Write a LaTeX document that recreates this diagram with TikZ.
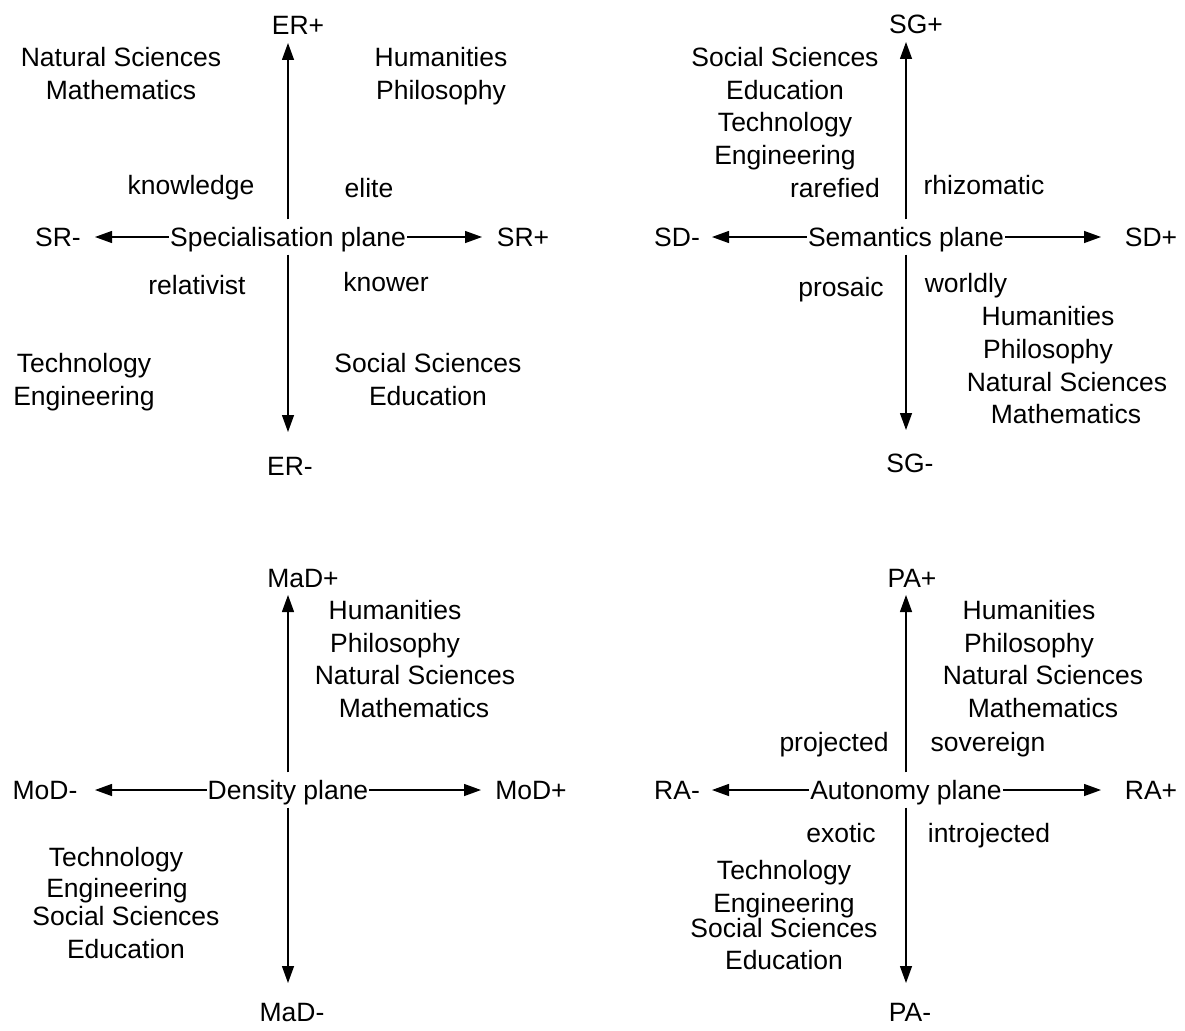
\documentclass[tikz,border=0pt]{standalone}
\usepackage{fontspec}
\setmainfont{Liberation Sans}
\usetikzlibrary{arrows.meta}
\begin{document}
\begin{tikzpicture}[x=1pt,y=-1pt,
  lbl/.style={inner sep=0pt, text height=19pt, text depth=0pt,
              font=\fontsize{26.5}{32}\selectfont},
  hub/.style={lbl, inner xsep=1pt, minimum height=35pt},
  axis/.style={line width=1.3pt, -{Triangle[length=17pt,width=12pt]}}
]
\useasboundingbox (0,0) rectangle (1185,1030);

% ---------------- Specialisation plane ----------------
\node[hub] (spC) at (288,237) {Specialisation plane};
\node[lbl] (spN) at (298,25)  {ER+};
\node[lbl] (spS) at (290,466) {ER-};
\node[lbl] (spW) at (58,237)  {SR-};
\node[lbl] (spE) at (523,237) {SR+};
\coordinate (spNt) at (288,43);
\coordinate (spSt) at (288,432);
\coordinate (spWt) at (95,237);
\coordinate (spEt) at (482,237);
\draw[axis] (spC.north) -- (spNt);
\draw[axis] (spC.south) -- (spSt);
\draw[axis] (spC.west)  -- (spWt);
\draw[axis] (spC.east)  -- (spEt);
\node[lbl] (sp1) at (121,57)  {Natural Sciences};
\node[lbl] (sp2) at (121,90)  {Mathematics};
\node[lbl] (sp3) at (441,57)  {Humanities};
\node[lbl] (sp4) at (441,90)  {Philosophy};
\node[lbl] (sp5) at (191,185) {knowledge};
\node[lbl] (sp6) at (369,188) {elite};
\node[lbl] (sp7) at (197,285) {relativist};
\node[lbl] (sp8) at (386,282) {knower};
\node[lbl] (sp9) at (84,363)  {Technology};
\node[lbl] (sp10) at (84,396) {Engineering};
\node[lbl] (sp11) at (428,363) {Social Sciences};
\node[lbl] (sp12) at (428,396) {Education};

% ---------------- Semantics plane ----------------
\node[hub] (seC) at (906,237) {Semantics plane};
\node[lbl] (seN) at (916,24)  {SG+};
\node[lbl] (seS) at (910,463) {SG-};
\node[lbl] (seW) at (677,237) {SD-};
\node[lbl] (seE) at (1151,237) {SD+};
\coordinate (seNt) at (906,42);
\coordinate (seSt) at (906,430);
\coordinate (seWt) at (712,237);
\coordinate (seEt) at (1101,237);
\draw[axis] (seC.north) -- (seNt);
\draw[axis] (seC.south) -- (seSt);
\draw[axis] (seC.west)  -- (seWt);
\draw[axis] (seC.east)  -- (seEt);
\node[lbl] (se1) at (785,57)  {Social Sciences};
\node[lbl] (se2) at (785,90)  {Education};
\node[lbl] (se3) at (785,122) {Technology};
\node[lbl] (se4) at (785,155) {Engineering};
\node[lbl] (se5) at (835,188) {rarefied};
\node[lbl] (se6) at (984,185) {rhizomatic};
\node[lbl] (se7) at (841,287) {prosaic};
\node[lbl] (se8) at (966,283) {worldly};
\node[lbl] (se9) at (1048,316) {Humanities};
\node[lbl] (se10) at (1048,349) {Philosophy};
\node[lbl] (se11) at (1067,382) {Natural Sciences};
\node[lbl] (se12) at (1066,414) {Mathematics};

% ---------------- Density plane ----------------
\node[hub] (deC) at (288,790) {Density plane};
\node[lbl] (deN) at (303,578)  {MaD+};
\node[lbl] (deS) at (292,1012) {MaD-};
\node[lbl] (deW) at (45,790)   {MoD-};
\node[lbl] (deE) at (531,790)  {MoD+};
\coordinate (deNt) at (288,595);
\coordinate (deSt) at (288,983);
\coordinate (deWt) at (95,790);
\coordinate (deEt) at (481,790);
\draw[axis] (deC.north) -- (deNt);
\draw[axis] (deC.south) -- (deSt);
\draw[axis] (deC.west)  -- (deWt);
\draw[axis] (deC.east)  -- (deEt);
\node[lbl] (de1) at (395,610) {Humanities};
\node[lbl] (de2) at (395,643) {Philosophy};
\node[lbl] (de3) at (415,675) {Natural Sciences};
\node[lbl] (de4) at (414,708) {Mathematics};
\node[lbl] (de5) at (116,857) {Technology};
\node[lbl] (de6) at (117,888) {Engineering};
\node[lbl] (de7) at (126,916) {Social Sciences};
\node[lbl] (de8) at (126,949) {Education};

% ---------------- Autonomy plane ----------------
\node[hub] (auC) at (906,790) {Autonomy plane};
\node[lbl] (auN) at (912,578)  {PA+};
\node[lbl] (auS) at (910,1012) {PA-};
\node[lbl] (auW) at (677,790)  {RA-};
\node[lbl] (auE) at (1151,790) {RA+};
\coordinate (auNt) at (906,595);
\coordinate (auSt) at (906,983);
\coordinate (auWt) at (712,790);
\coordinate (auEt) at (1101,790);
\draw[axis] (auC.north) -- (auNt);
\draw[axis] (auC.south) -- (auSt);
\draw[axis] (auC.west)  -- (auWt);
\draw[axis] (auC.east)  -- (auEt);
\node[lbl] (au1) at (1029,610) {Humanities};
\node[lbl] (au2) at (1029,643) {Philosophy};
\node[lbl] (au3) at (1043,675) {Natural Sciences};
\node[lbl] (au4) at (1043,708) {Mathematics};
\node[lbl] (au5) at (834,742) {projected};
\node[lbl] (au6) at (988,742) {sovereign};
\node[lbl] (au7) at (841,833) {exotic};
\node[lbl] (au8) at (989,833) {introjected};
\node[lbl] (au9) at (784,870) {Technology};
\node[lbl] (au10) at (784,903) {Engineering};
\node[lbl] (au11) at (784,928) {Social Sciences};
\node[lbl] (au12) at (784,960) {Education};
\end{tikzpicture}
\end{document}
